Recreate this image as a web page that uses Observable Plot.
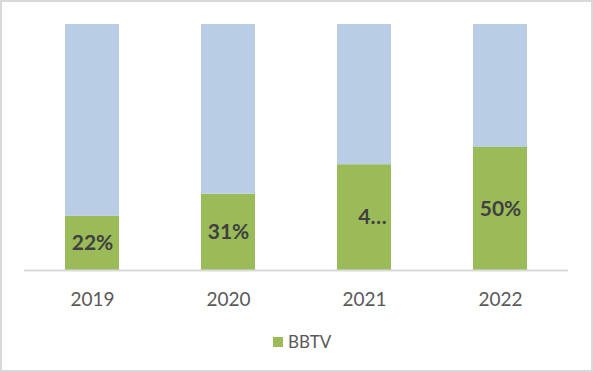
<!DOCTYPE html>
<html>
<head>
<meta charset="utf-8">
<script src="https://cdn.jsdelivr.net/npm/d3@7"></script>
<script src="https://cdn.jsdelivr.net/npm/@observablehq/plot@0.6"></script>
<style>
  html, body { margin: 0; padding: 0; background: #fff; }
  #frame { position: relative; width: 593px; height: 372px; box-sizing: border-box; border: 2px solid #d9d9d9; background: #fff; overflow: hidden; font-family: Lato, "Open Sans", sans-serif; }
  #chart { position: absolute; left: 0; top: 0; }
  #legend { position: absolute; left: 271px; top: 329px; display: flex; align-items: center; font-size: 17px; color: #595959; }
  #legend .sw { width: 10px; height: 10px; background: #9bbb59; margin-right: 5px; }
</style>
</head>
<body>
<div id="frame">
  <div id="chart"></div>
  <div id="legend"><span class="sw"></span><span>BBTV</span></div>
</div>
<script>
const years = ["2019", "2020", "2021", "2022"];
const bbtv = [22, 31, 43, 50];
const other = [78, 69, 57, 50];
const labels = ["22%", "31%", "4…", "50%"];
const labelShift = [0, 0, 8, 0];

const rows = [];
years.forEach((y, i) => {
  rows.push({year: y, series: "BBTV", value: bbtv[i]});
  rows.push({year: y, series: "Other", value: other[i]});
});
const labelRows = years.map((y, i) => ({year: y, mid: bbtv[i] / 2, label: labels[i], shift: labelShift[i]}));

const plot = Plot.plot({
  width: 589,
  height: 320,
  marginLeft: 22,
  marginRight: 23,
  marginTop: 22,
  marginBottom: 52,
  style: {fontFamily: "Lato, 'Open Sans', sans-serif", background: "transparent"},
  x: {domain: years, paddingInner: 0.6, paddingOuter: 0.3, label: null},
  y: {domain: [0, 100], axis: null},
  color: {domain: ["BBTV", "Other"], range: ["#9bbb59", "#b9cde5"]},
  marks: [
    Plot.barY(rows, {x: "year", y: "value", fill: "series", order: ["BBTV", "Other"]}),
    Plot.ruleY([0], {stroke: "#d9d9d9", strokeWidth: 2}),
    Plot.axisX({tickSize: 0, tickPadding: 22, fontSize: 19, color: "#595959", label: null}),
    Plot.text(labelRows.filter(d => d.shift === 0), {x: "year", y: "mid", text: "label", fontSize: 21, fontWeight: "bold", fill: "#404040"}),
    Plot.text(labelRows.filter(d => d.shift !== 0), {x: "year", y: "mid", text: "label", dx: 8, fontSize: 21, fontWeight: "bold", fill: "#404040"})
  ]
});
document.getElementById("chart").appendChild(plot);
</script>
</body>
</html>
